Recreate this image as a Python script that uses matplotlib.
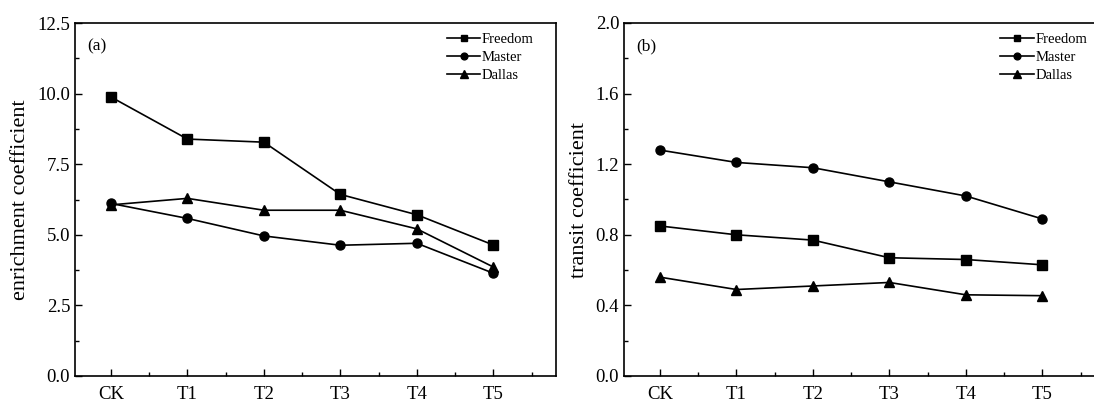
import matplotlib
matplotlib.use("Agg")
import matplotlib.pyplot as plt
from matplotlib.ticker import MultipleLocator

categories = ["CK", "T1", "T2", "T3", "T4", "T5"]
series_names = ["Freedom", "Master", "Dallas"]

# panel (a): enrichment coefficient
enrich_freedom = [9.88, 8.39, 8.28, 6.43, 5.71, 4.64]
enrich_master = [6.11, 5.58, 4.96, 4.63, 4.70, 3.64]
enrich_dallas = [6.06, 6.29, 5.87, 5.87, 5.21, 3.86]

# panel (b): transit coefficient
transit_freedom = [0.85, 0.80, 0.77, 0.67, 0.66, 0.63]
transit_master = [1.28, 1.21, 1.18, 1.10, 1.02, 0.89]
transit_dallas = [0.56, 0.49, 0.51, 0.53, 0.46, 0.455]

markers = ["s", "o", "^"]

plt.rcParams["font.family"] = ["Liberation Serif", "DejaVu Serif"]

fig = plt.figure(figsize=(10.94, 4.01), dpi=100)
W, H = 1094, 401


def make_axes(left_px, right_px):
    return fig.add_axes([left_px / W, 1 - 376 / H, (right_px - left_px) / W, (376 - 23) / H])


ax_a = make_axes(75, 556)
ax_b = make_axes(624, 1105)

panels = [
    (ax_a, [enrich_freedom, enrich_master, enrich_dallas], "enrichment coefficient",
     (0, 12.5), 2.5, 1.25, "(a)", 0.975),
    (ax_b, [transit_freedom, transit_master, transit_dallas], "transit coefficient",
     (0, 2.0), 0.4, 0.2, "(b)", 0.984),
]

x = list(range(len(categories)))
for ax, data, ylabel, ylim, major, minor, tag, leg_x in panels:
    for name, vals, mk in zip(series_names, data, markers):
        ax.plot(x, vals, color="black", lw=1.2, marker=mk, ms=6.5 if mk != "^" else 7,
                label=name)
    ax.set_xlim(-0.47, 5.82)
    ax.set_ylim(*ylim)
    ax.set_xticks(x)
    ax.set_xticklabels(categories)
    ax.xaxis.set_minor_locator(MultipleLocator(0.5))
    ax.yaxis.set_major_locator(MultipleLocator(major))
    ax.yaxis.set_minor_locator(MultipleLocator(minor))
    ax.set_yticklabels(["{:.1f}".format(v) for v in ax.get_yticks()])
    ax.tick_params(which="both", direction="in", labelsize=13.5, width=1.0,
                   top=False, right=False)
    ax.tick_params(axis="x", which="major", pad=7)
    ax.tick_params(which="major", length=5)
    ax.tick_params(which="minor", length=3)
    for s in ax.spines.values():
        s.set_linewidth(1.2)
    ax.set_ylabel(ylabel, fontsize=16, labelpad=5)
    ax.text(0.025, 0.955, tag, transform=ax.transAxes, fontsize=12.5, va="top", ha="left")
    ax.legend(loc="upper right", frameon=False, fontsize=10.5, handlelength=2.3,
              handletextpad=0.1, labelspacing=0.32, borderaxespad=0.3,
              markerscale=0.75, bbox_to_anchor=(leg_x, 1.0))

fig.savefig("out.png", dpi=100)
